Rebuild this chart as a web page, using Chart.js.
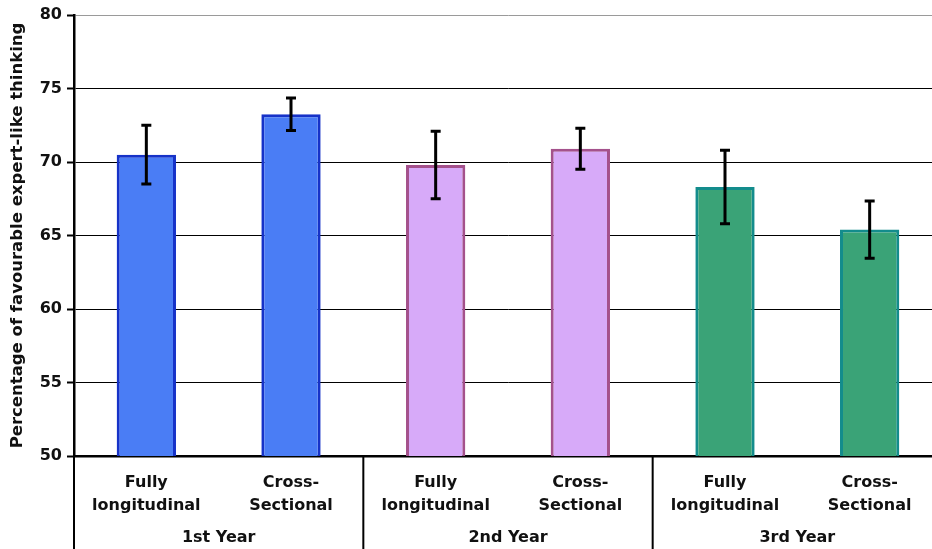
<!DOCTYPE html>
<html>
<head>
<meta charset="utf-8">
<script src="https://cdn.jsdelivr.net/npm/chart.js@4/dist/chart.umd.min.js"></script>
<style>
html,body{margin:0;padding:0;background:#fff;overflow:hidden;}
#wrap{width:942px;height:549px;}
</style>
</head>
<body>
<div id="wrap"><canvas id="c" width="942" height="549"></canvas></div>
<script>
// ---- data ----
const categories = [["Fully","longitudinal"],["Cross-","Sectional"],["Fully","longitudinal"],["Cross-","Sectional"],["Fully","longitudinal"],["Cross-","Sectional"]];
const groups = ["1st Year","2nd Year","3rd Year"];
const groupSizes = [2,2,2];
const values = [70.5, 73.25, 69.8, 70.9, 68.3, 65.4];
const errors = [2.0, 1.1, 2.3, 1.4, 2.5, 1.95];
const yTicks = [50,55,60,65,70,75,80];

const fillColors = ["#4A7DF5","#4A7DF5","#D7AAF9","#D7AAF9","#3AA377","#3AA377"];
const borderColors = ["#1632C8","#1632C8","#A4518C","#A4518C","#138C8C","#138C8C"];

const FONT = "'DejaVu Sans', Verdana, sans-serif";

const errorBars = {
  id:'errorBars',
  afterDatasetsDraw(chart){
    const ctx = chart.ctx, y = chart.scales.y;
    const meta = chart.getDatasetMeta(0);
    ctx.save();
    ctx.strokeStyle = '#000';
    ctx.lineWidth = 3;
    meta.data.forEach((bar,i)=>{
      const top = y.getPixelForValue(values[i]+errors[i]);
      const bot = y.getPixelForValue(values[i]-errors[i]);
      ctx.beginPath();
      ctx.moveTo(bar.x, top); ctx.lineTo(bar.x, bot);
      ctx.moveTo(bar.x-5, top); ctx.lineTo(bar.x+5, top);
      ctx.moveTo(bar.x-5, bot); ctx.lineTo(bar.x+5, bot);
      ctx.stroke();
    });
    ctx.restore();
  }
};

const separators = {
  id:'separators',
  afterDraw(chart){
    const ctx = chart.ctx, area = chart.chartArea;
    const meta = chart.getDatasetMeta(0);
    ctx.save();
    ctx.strokeStyle = '#000';
    ctx.lineWidth = 2;
    ctx.beginPath();
    ctx.moveTo(area.left, area.bottom); ctx.lineTo(area.left, chart.height);
    let idx = 0;
    for (let g=0; g<groupSizes.length-1; g++){
      idx += groupSizes[g];
      const x = (meta.data[idx-1].x + meta.data[idx].x)/2;
      ctx.moveTo(x, area.bottom); ctx.lineTo(x, chart.height);
    }
    ctx.stroke();
    ctx.restore();
  }
};

new Chart(document.getElementById('c'), {
  type:'bar',
  data:{
    labels: categories,
    datasets:[{
      data: values,
      backgroundColor: fillColors,
      borderColor: borderColors,
      borderWidth: 3,
      barPercentage: 0.41,
      categoryPercentage: 1.0
    }]
  },
  options:{
    responsive:false,
    animation:false,
    layout:{padding:{top:15,right:0,bottom:0,left:0}},
    plugins:{legend:{display:false},tooltip:{enabled:false}},
    scales:{
      x:{
        type:'category',
        offset:true,
        grid:{display:false,drawTicks:false,tickLength:0},
        border:{display:true,color:'#000',width:2.5},
        ticks:{color:'#111',font:{family:FONT,size:16,weight:'bold',lineHeight:1.4},padding:16,maxRotation:0,autoSkip:false},
        afterFit(s){ s.height = 64; }
      },
      x2:{
        type:'category',
        position:'bottom',
        labels: groups,
        offset:true,
        grid:{display:false,drawTicks:false,tickLength:0},
        border:{display:false},
        ticks:{color:'#111',font:{family:FONT,size:16,weight:'bold'},padding:8,maxRotation:0,autoSkip:false},
        afterFit(s){ s.height = 29; }
      },
      y:{
        min:50,max:80,
        afterBuildTicks(s){ s.ticks = yTicks.map(v=>({value:v})); },
        grid:{color:(c)=> c.tick && c.tick.value===80 ? '#9a9a9a' : '#000', lineWidth:1, tickLength:7, tickColor:'#000', tickWidth:2},
        border:{display:true,color:'#000',width:2.5},
        ticks:{color:'#111',font:{family:FONT,size:16,weight:'bold'},padding:5},
        title:{display:true,text:'Percentage of favourable expert-like thinking',color:'#111',font:{family:FONT,size:16.5,weight:'bold'},padding:{top:8,bottom:4}},
        afterFit(s){ s.width = 74; }
      }
    }
  },
  plugins:[errorBars, separators]
});
</script>
</body>
</html>
